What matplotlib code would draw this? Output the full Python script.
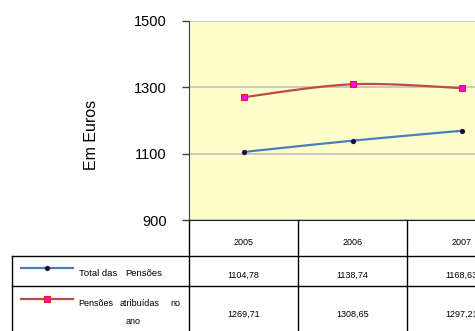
import numpy as np
import matplotlib
matplotlib.use("Agg")
import matplotlib.pyplot as plt

# Data
anos = ["2005", "2006", "2007"]
total_pensoes = [1104.78, 1138.74, 1168.63]
pensoes_atribuidas = [1269.71, 1308.65, 1297.21]
series_labels = ["Total das Pensões", "Pensões atribuídas no ano"]
y_ticks = [900, 1100, 1300, 1500]

plt.rcParams['font.family'] = ['Liberation Sans', 'DejaVu Sans']

W, H = 475, 331
fig = plt.figure(figsize=(W / 100, H / 100), dpi=100)


def smooth(xs, ys, n=40):
    """Bezier smoothing through the points (spreadsheet-style smoothed line)."""
    pts = np.column_stack([xs, ys]).astype(float)
    out = [pts[0:1]]
    t = np.linspace(0, 1, n)[1:, None]
    for i in range(len(pts) - 1):
        p0 = pts[max(i - 1, 0)]
        p1 = pts[i]
        p2 = pts[i + 1]
        p3 = pts[min(i + 2, len(pts) - 1)]
        c1 = p1 + (p2 - p0) / 6
        c2 = p2 - (p3 - p1) / 6
        seg = (1 - t) ** 3 * p1 + 3 * (1 - t) ** 2 * t * c1 + 3 * (1 - t) * t ** 2 * c2 + t ** 3 * p2
        out.append(seg)
    return np.vstack(out)


styles = [
    dict(line="#4a7ebb", marker="o", ms=3.0, mfc="#000060", mec="#3a1a3a"),
    dict(line="#be4b48", marker="s", ms=4.4, mfc="#ff00ff", mec="#e02020"),
]
series = [total_pensoes, pensoes_atribuidas]

# Plot area (pixel layout)
left, right, top, bottom = 189, 516, 20.7, 220
ax = fig.add_axes([left / W, (H - bottom) / H, (right - left) / W, (bottom - top) / H])
ax.set_facecolor("#ffffcc")
ax.set_xlim(0, len(anos))
ax.set_ylim(900, 1500)
ax.set_yticks(y_ticks)
ax.set_yticklabels([str(v) for v in y_ticks], fontsize=10.5)
ax.tick_params(axis="y", direction="out", length=5, width=1, color="#404040", pad=11)
ax.set_xticks([])
ax.grid(axis="y", color="#c0c0c0", linewidth=1.2)
ax.set_axisbelow(True)
for s in ("top", "right"):
    ax.spines[s].set_visible(False)
ax.spines["left"].set_color("#404040")
ax.spines["bottom"].set_color("#202020")

xs = np.arange(len(anos)) + 0.5
for vals, st in zip(series, styles):
    curve = smooth(xs, vals)
    ax.plot(curve[:, 0], curve[:, 1], color=st["line"], lw=1.6, zorder=3)
    ax.plot(xs, vals, linestyle="none", marker=st["marker"], ms=st["ms"],
            mfc=st["mfc"], mec=st["mec"], mew=0.8, zorder=4)

fig.text(91.5 / W, 1 - 135 / H, "Em Euros", rotation=90, ha="center", va="center", fontsize=11.5)

# Data table below the plot, in pixel coordinates
ov = fig.add_axes([0, 0, 1, 1])
ov.set_xlim(0, W)
ov.set_ylim(H, 0)
ov.axis("off")

col_w = (right - left) / len(anos)
col_edges = [left + i * col_w for i in range(len(anos) + 1)]
row_tops = [255.5, 285.5]
lk = dict(color="black", lw=1)
for xe in col_edges:
    ov.plot([xe, xe], [bottom, H + 5], **lk)
for yr in row_tops:
    ov.plot([12, W + 5], [yr, yr], **lk)
ov.plot([12, 12], [row_tops[0], H + 5], **lk)

fs = 6.5
for i, ano in enumerate(anos):
    cx = left + (i + 0.5) * col_w
    ov.text(cx, 242.7, ano, ha="center", va="center", fontsize=fs)
    ov.text(cx, 275, f"{total_pensoes[i]:.2f}".replace(".", ","), ha="center", va="center", fontsize=fs)
    ov.text(cx, 314, f"{pensoes_atribuidas[i]:.2f}".replace(".", ","), ha="center", va="center", fontsize=fs)

# Legend keys inside the table
key_y = [268, 299]
for ky, st in zip(key_y, styles):
    ov.plot([21, 73], [ky, ky], color=st["line"], lw=1.6)
    ov.plot([46.5], [ky], linestyle="none", marker=st["marker"], ms=st["ms"],
            mfc=st["mfc"], mec=st["mec"], mew=0.8)

# Series names, justified across the first column
fl = 6.8
w1 = series_labels[0].split(" ")
ov.text(79, 273, " ".join(w1[:2]), ha="left", va="center", fontsize=fl)
ov.text(125, 273, w1[2], ha="left", va="center", fontsize=fl)
w2 = series_labels[1].split(" ")
ov.text(78, 303, w2[0], ha="left", va="center", fontsize=fs)
ov.text(120, 303, w2[1], ha="left", va="center", fontsize=fs)
ov.text(180, 303, w2[2], ha="right", va="center", fontsize=fs)
ov.text(133, 322, w2[3], ha="center", va="center", fontsize=fs)

fig.savefig("out.png", dpi=100, facecolor="white")
